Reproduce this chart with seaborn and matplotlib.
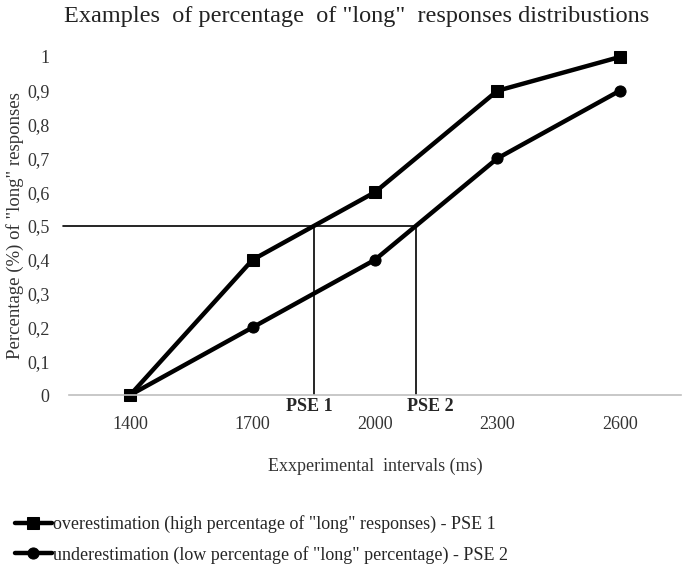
import matplotlib
matplotlib.use("Agg")
import matplotlib.pyplot as plt
import seaborn as sns
import pandas as pd

intervals = [1400, 1700, 2000, 2300, 2600]
over_vals = [0.0, 0.4, 0.6, 0.9, 1.0]
under_vals = [0.0, 0.2, 0.4, 0.7, 0.9]
y_ticks = [0, 0.1, 0.2, 0.3, 0.4, 0.5, 0.6, 0.7, 0.8, 0.9, 1.0]
y_tick_labels = ["0", "0,1", "0,2", "0,3", "0,4", "0,5", "0,6", "0,7", "0,8", "0,9", "1"]
pse1 = 1850
pse2 = 2100

over_label = 'overestimation (high percentage of "long" responses) - PSE 1'
under_label = 'underestimation (low percentage of "long" percentage) - PSE 2'

df = pd.DataFrame({"interval": intervals, "over": over_vals, "under": under_vals})

sns.set_style("white")
plt.rcParams["font.family"] = ["Liberation Serif", "DejaVu Serif"]

fig = plt.figure(figsize=(6.85, 5.74), dpi=100)
ax = fig.add_axes([0.1007, 0.3118, 0.8933, 0.5889])

sns.lineplot(data=df, x="interval", y="over", ax=ax, color="black", lw=3.2,
             marker="s", markersize=8, markeredgecolor="black", label=over_label,
             clip_on=False)
sns.lineplot(data=df, x="interval", y="under", ax=ax, color="black", lw=3.2,
             marker="o", markersize=8, markeredgecolor="black", label=under_label,
             clip_on=False)

# PSE reference lines
ax.plot([1235, pse2], [0.5, 0.5], color="black", lw=1.2, clip_on=False, zorder=1)
ax.plot([pse1, pse1], [0, 0.5], color="black", lw=1.2, zorder=1)
ax.plot([pse2, pse2], [0, 0.5], color="black", lw=1.2, zorder=1)
ax.text(pse1 - 12, -0.008, "PSE 1", ha="center", va="top", fontsize=13, fontweight="bold")
ax.text(pse2 + 35, -0.008, "PSE 2", ha="center", va="top", fontsize=13, fontweight="bold")

ax.set_xlim(1250, 2750)
ax.set_ylim(0, 1)
ax.set_xticks(intervals)
ax.set_xticklabels([str(v) for v in intervals], fontsize=13, color="#333333")
ax.set_yticks(y_ticks)
ax.set_yticklabels(y_tick_labels, fontsize=13, color="#333333")
ax.tick_params(axis="x", length=0, pad=15)
ax.tick_params(axis="y", length=0, pad=14)

for s in ["top", "right", "left"]:
    ax.spines[s].set_visible(False)
ax.spines["bottom"].set_color("#bfbfbf")
ax.spines["bottom"].set_linewidth(1.2)

ax.set_xlabel("Exxperimental  intervals (ms)", fontsize=13, color="#333333", labelpad=18)
ax.set_ylabel('Percentage (%) of "long" responses', fontsize=13.5, color="#333333")
ax.yaxis.set_label_coords(-0.073, 0.5)

fig.suptitle('Examples  of percentage  of "long"  responses distribustions',
             x=0.52, y=0.99, fontsize=17.5, color="#222222")

handles, labels = ax.get_legend_handles_labels()
ax.get_legend().remove()
fig.legend(handles, labels, loc="upper left", bbox_to_anchor=(0.012, 0.115),
           frameon=False, fontsize=13, handlelength=2.0, handletextpad=0.1,
           labelspacing=0.7, borderaxespad=0)

fig.savefig("out.png", dpi=100)
